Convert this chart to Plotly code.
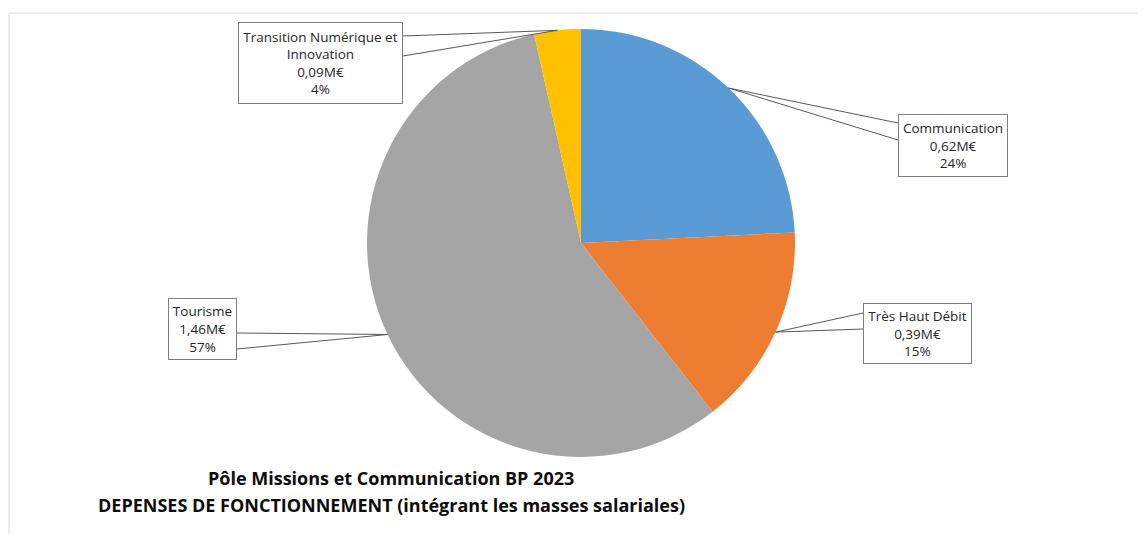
import math
import plotly.graph_objects as go

# ---- data ----
categories = ["Communication", "Très Haut Débit", "Tourisme", "Transition Numérique et<br>Innovation"]
values = [0.62, 0.39, 1.46, 0.09]
value_labels = ["0,62M€", "0,39M€", "1,46M€", "0,09M€"]
pct_labels = ["24%", "15%", "57%", "4%"]
colors = ["#5B9BD5", "#ED7D31", "#A5A5A5", "#FFC000"]
title_lines = ["Pôle Missions et Communication BP 2023",
               "DEPENSES DE FONCTIONNEMENT (intégrant les masses salariales)"]

# ---- layout constants (pixels) ----
W, H = 1145, 534
OFF = 8  # page body margin
CX, CY, R = 581, 243, 214
# label boxes: (x0, y0, x1, y1, side, attach_y_top, attach_y_bottom)
boxes = [
    (898, 114, 1008, 177, "left", 123, 140),
    (863, 303, 972, 364, "left", 313, 329),
    (168, 298, 237, 360, "right", 333, 349),
    (238, 22, 403, 104, "right", 36, 56),
]


def px(x):
    return (x - OFF) / W


def py(y):
    return 1 - (y - OFF) / H


fig = go.Figure()
fig.add_trace(go.Pie(
    labels=categories, values=values, sort=False, direction="clockwise",
    rotation=0, textinfo="none", hoverinfo="label+value+percent",
    marker=dict(colors=colors, line=dict(width=0)),
    domain=dict(x=[px(CX - R), px(CX + R)], y=[py(CY + R), py(CY - R)]),
    showlegend=False,
))

shapes = []
annotations = []
total = sum(values)
cum = 0
for i, v in enumerate(values):
    mid = (cum + v / 2) / total * 2 * math.pi
    cum += v
    tx = CX + R * math.sin(mid)
    ty = CY - R * math.cos(mid)
    x0, y0, x1, y1, side, a1, a2 = boxes[i]
    ex = x0 if side == "left" else x1
    path = f"M {px(ex)},{py(a1)} L {px(tx)},{py(ty)} L {px(ex)},{py(a2)}"
    shapes.append(dict(type="path", xref="paper", yref="paper", path=path,
                       line=dict(color="#595959", width=1), layer="above"))
    text = f"{categories[i]}<br>{value_labels[i]}<br>{pct_labels[i]}"
    annotations.append(dict(
        xref="paper", yref="paper", x=px((x0 + x1) / 2), y=py((y0 + y1) / 2),
        xanchor="center", yanchor="middle", showarrow=False, text=text,
        align="center", valign="middle", width=x1 - x0 - 2, height=y1 - y0 - 2,
        borderpad=0, bordercolor="#7F7F7F", borderwidth=1, bgcolor="white",
        font=dict(family="Open Sans, sans-serif", size=13.5, color="#262626"),
    ))

# frame lines
shapes.append(dict(type="line", xref="paper", yref="paper", x0=px(9), x1=1, y0=py(13), y1=py(13),
                   line=dict(color="#D9D9D9", width=1)))
shapes.append(dict(type="line", xref="paper", yref="paper", x0=px(9), x1=px(9), y0=py(13), y1=0,
                   line=dict(color="#D9D9D9", width=1)))

for t, yy in zip(title_lines, [478, 505]):
    annotations.append(dict(
        xref="paper", yref="paper", x=px(391), y=py(yy), xanchor="center", yanchor="middle",
        showarrow=False, text=f"<b>{t}</b>",
        font=dict(family="Open Sans, sans-serif", size=18, color="#0D0D0D"),
    ))

fig.update_layout(
    width=W, height=H, margin=dict(l=0, r=0, t=0, b=0),
    paper_bgcolor="white", plot_bgcolor="white",
    shapes=shapes, annotations=annotations,
)
fig.write_html("out.html")
